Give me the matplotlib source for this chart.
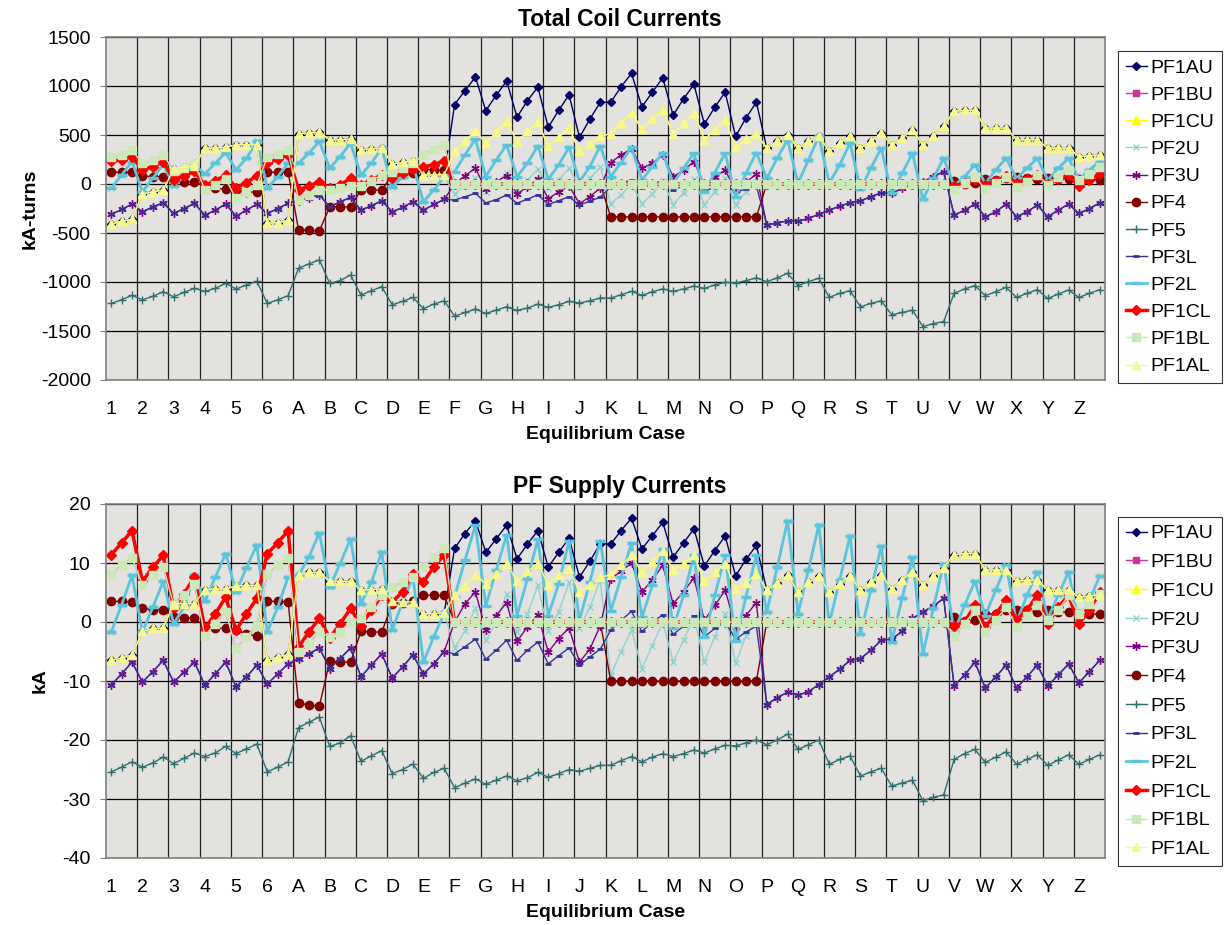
import numpy as np
import matplotlib
matplotlib.use('Agg')
import matplotlib.pyplot as plt

plt.rcParams['font.family'] = ['Liberation Sans', 'DejaVu Sans']
plt.rcParams['axes.unicode_minus'] = False

# equilibrium cases, three points per case
cases = ['1', '2', '3', '4', '5', '6'] + list('ABCDEFGHIJKLMNOPQRSTUVWXYZ')
names = ['PF1AU', 'PF1BU', 'PF1CU', 'PF2U', 'PF3U', 'PF4', 'PF5',
         'PF3L', 'PF2L', 'PF1CL', 'PF1BL', 'PF1AL']

# ---------------- Total coil currents (kA-turns) ----------------
# rows: 1-6 | A-E | F-J | K-O | P-U | V-Z
top_pf1au = [
    -410, -380, -360, -100, -80, -62, 155, 172, 182, 366, 366, 376, 400, 400, 400, -400, -395, -370,
    513, 520, 527, 451, 451, 458, 350, 358, 366, 205, 220, 235, 92, 92, 95,
    811, 954, 1091, 749, 906, 1050, 681, 852, 988, 578, 752, 910, 475, 663, 834,
    834, 992, 1129, 787, 937, 1084, 701, 869, 1016, 612, 783, 937, 486, 674, 834,
    366, 434, 503, 366, 434, 492, 332, 417, 492, 366, 434, 520, 400, 469, 554, 400, 492, 588,
    742, 752, 752, 571, 571, 571, 451, 451, 451, 366, 366, 366, 280, 287, 297]
top_pf1cu = [
    -410, -380, -360, -100, -80, -62, 155, 172, 182, 366, 366, 376, 400, 400, 400, -400, -395, -370,
    513, 520, 527, 451, 451, 458, 350, 358, 366, 205, 220, 235, 92, 92, 95,
    332, 434, 544, 417, 527, 640, 431, 537, 629, 383, 479, 571, 332, 407, 486,
    513, 622, 725, 561, 663, 759, 513, 622, 725, 451, 554, 650, 373, 458, 510,
    366, 434, 503, 366, 434, 492, 332, 417, 492, 366, 434, 520, 400, 469, 554, 400, 492, 588,
    742, 752, 752, 571, 571, 571, 451, 451, 451, 366, 366, 366, 280, 287, 297]
top_pf1al = list(top_pf1cu)
top_pf2u = [
    -44, 92, 229, -79, 60, 200, -20, 75, 195, 103, 212, 321, 144, 263, 434, -44, 75, 212,
    212, 315, 434, 161, 280, 417, 92, 212, 366, -34, 75, 195, -181, -62, 75,
    -100, -20, 60, -80, 10, 110, -50, 40, 150, -45, 45, 160, -30, 60, 170,
    -200, -110, 0, -200, -100, 30, -210, -90, 50, -210, -80, 60, -210, -80, 20,
    58, 263, 451, 7, 246, 486, 7, 195, 417, -55, 161, 366, -96, 109, 315, -157, 58, 263,
    -20, 75, 195, 7, 144, 263, 58, 161, 263, 41, 161, 263, 48, 144, 229]
top_pf2l = [
    -44, 92, 229, -79, 60, 200, -20, 75, 195, 103, 212, 321, 144, 263, 434, -44, 75, 212,
    212, 315, 434, 161, 280, 417, 92, 212, 366, -34, 75, 195, -181, -62, 75,
    127, 298, 458, 75, 246, 400, 75, 212, 390, 48, 195, 376, 24, 178, 390,
    75, 219, 373, 41, 178, 321, 7, 161, 315, -79, 116, 315, -130, 109, 321,
    58, 263, 451, 7, 246, 486, 7, 195, 417, -55, 161, 366, -96, 109, 315, -157, 58, 263,
    -20, 75, 195, 7, 144, 263, 58, 161, 263, 41, 161, 263, 48, 144, 229]
top_pf3u = [
    -311, -260, -205, -284, -233, -192, -301, -250, -198, -318, -267, -205, -328, -267, -205, -301, -250, -198,
    -170, -140, -110, -233, -181, -137, -267, -222, -171, -284, -239, -181, -267, -209, -157,
    0, 85, 161, -55, 24, 85, -103, -27, 50, -150, -80, -20, -200, -130, -40,
    219, 297, 359, 161, 212, 297, 75, 140, 229, -10, 75, 140, -60, 20, 100,
    -420, -397, -376, -380, -352, -308, -267, -226, -192, -171, -130, -89, -96, -44, -10, 24, 75, 127,
    -318, -267, -205, -335, -284, -205, -335, -284, -215, -335, -267, -205, -301, -250, -192]
top_pf3l = [
    -311, -260, -205, -284, -233, -192, -301, -250, -198, -318, -267, -205, -328, -267, -205, -301, -250, -198,
    -170, -140, -110, -233, -181, -137, -267, -222, -171, -284, -239, -181, -267, -209, -157,
    -164, -130, -96, -192, -160, -113, -195, -155, -110, -210, -170, -130, -215, -175, -135,
    -30, 5, 45, -45, 0, 35, -60, -20, 30, -75, -30, 0, -85, -50, -20,
    -420, -397, -376, -380, -352, -308, -267, -226, -192, -171, -130, -89, -96, -44, -10, 24, 75, 127,
    -318, -267, -205, -335, -284, -205, -335, -284, -215, -335, -267, -205, -301, -250, -192]
top_pf4 = [
    120, 120, 120, 82, 75, 75, 41, 24, 24, -27, -44, -51, -62, -79, -85, 120, 120, 120,
    -465, -472, -479, -233, -233, -233, -62, -62, -62, 92, 100, 110, 150, 144, 144,
    0, 0, 0, 0, 0, 0, 0, 0, 0, 0, 0, 0, 0, 0, 0,
    -335, -335, -335, -335, -335, -335, -335, -335, -335, -335, -335, -335, -335, -335, -335,
    0, 0, 0, 0, 0, 0, 0, 0, 0, 0, 0, 0, 0, 0, 0, 0, 0, 0,
    30, 0, 10, 50, 45, 60, 70, 60, 55, 65, 55, 55, 50, 50, 40]
top_pf5 = [
    -1219, -1181, -1137, -1181, -1147, -1099, -1150, -1106, -1065, -1096, -1065, -1014, -1071, -1030, -993, -1219, -1181, -1140,
    -860, -815, -774, -1014, -986, -928, -1133, -1089, -1048, -1232, -1198, -1157, -1273, -1225, -1191,
    -1349, -1311, -1277, -1321, -1287, -1253, -1290, -1266, -1225, -1260, -1232, -1198, -1215, -1191, -1164,
    -1164, -1130, -1096, -1137, -1099, -1071, -1096, -1071, -1041, -1065, -1030, -1003, -1010, -986, -958,
    -996, -958, -911, -1037, -996, -962, -1157, -1116, -1089, -1253, -1219, -1191, -1335, -1311, -1287, -1455, -1424, -1404,
    -1116, -1071, -1037, -1140, -1099, -1055, -1157, -1116, -1078, -1168, -1123, -1082, -1157, -1116, -1078]
top_pf1cl = [
    230, 250, 280, 144, 178, 229, 45, 85, 130, -15, 35, 90, -40, 15, 85, 212, 253, 298,
    -62, -21, 24, -44, -10, 58, -10, 41, 92, 58, 109, 150, 178, 195, 239,
    0, 0, 0, 0, 0, 0, 0, 0, 0, 0, 0, 0, 0, 0, 0,
    0, 0, 0, 0, 0, 0, 0, 0, 0, 0, 0, 0, 0, 0, 0,
    0, 0, 0, 0, 0, 0, 0, 0, 0, 0, 0, 0, 0, 0, 0, 0, 0, 0,
    -20, 10, 50, -10, 30, 80, 10, 50, 95, 0, 50, 90, -20, 40, 100]
top_pf1bl = [
    274, 298, 342, 212, 240, 298, 137, 161, 212, -62, -10, 48, -147, -79, -10, 274, 308, 342,
    -164, -113, -62, -62, -44, -21, -21, 34, 92, 127, 161, 212, 298, 349, 400,
    0, 0, 0, 0, 0, 0, 0, 0, 0, 0, 0, 0, 0, 0, 0,
    0, 0, 0, 0, 0, 0, 0, 0, 0, 0, 0, 0, 0, 0, 0,
    0, 0, 0, 0, 0, 0, 0, 0, 0, 0, 0, 0, 0, 0, 0, 0, 0, 0,
    -62, 7, 75, -55, 7, 75, -27, 24, 92, -10, 75, 144, 41, 103, 171]
top_pf1bu = list(top_pf1bl)

# ---------------- PF supply currents (kA) ----------------
bot_pf1au = [
    -6.5, -6.1, -5.6, -1.6, -1.1, -1.0, 3.1, 3.1, 3.1, 5.5, 5.6, 5.6, 6.1, 6.2, 6.2, -6.5, -5.9, -5.5,
    8.0, 8.4, 8.4, 6.9, 6.9, 6.9, 5.4, 5.5, 5.6, 3.5, 3.4, 3.4, 1.4, 1.4, 1.6,
    12.5, 15.0, 17.2, 11.8, 14.1, 16.4, 10.7, 13.2, 15.5, 9.3, 11.8, 14.2, 7.6, 10.3, 13.3,
    13.2, 15.5, 17.6, 12.4, 14.6, 16.9, 11.0, 13.4, 15.8, 9.5, 12.1, 14.6, 7.8, 10.6, 13.0,
    5.4, 6.6, 7.9, 5.1, 6.7, 7.8, 5.1, 6.5, 7.8, 5.4, 6.7, 8.0, 5.6, 7.2, 8.5, 6.3, 7.8, 9.2,
    11.4, 11.6, 11.6, 8.8, 8.8, 8.8, 6.9, 7.1, 7.1, 5.4, 5.4, 5.4, 4.2, 4.4, 4.6]
bot_pf1cu = [
    -6.5, -6.1, -5.6, -1.6, -1.1, -1.0, 3.1, 3.1, 3.1, 5.5, 5.6, 5.6, 6.1, 6.2, 6.2, -6.5, -5.9, -5.5,
    8.0, 8.4, 8.4, 6.9, 6.9, 6.9, 5.4, 5.5, 5.6, 3.5, 3.4, 3.4, 1.4, 1.4, 1.6,
    4.5, 6.1, 7.9, 6.5, 8.2, 9.9, 6.9, 8.6, 9.9, 6.3, 7.9, 9.0, 5.1, 6.2, 7.6,
    8.0, 9.6, 11.3, 8.4, 10.2, 12.0, 8.8, 9.9, 11.3, 6.9, 8.4, 9.9, 5.6, 6.6, 8.2,
    5.4, 6.6, 7.9, 5.1, 6.7, 7.8, 5.1, 6.5, 7.8, 5.4, 6.7, 8.0, 5.6, 7.2, 8.5, 6.3, 7.8, 9.2,
    11.4, 11.6, 11.6, 8.8, 8.8, 8.8, 6.9, 7.1, 7.1, 5.4, 5.4, 5.4, 4.2, 4.4, 4.6]
bot_pf1al = list(bot_pf1cu)
bot_pf2u = [
    -1.7, 2.9, 7.9, -1.7, 2.5, 6.9, -0.3, 2.5, 7.9, 3.5, 7.6, 11.6, 5.1, 9.2, 13.1, -1.7, 2.5, 7.6,
    7.9, 11.0, 15.1, 5.9, 9.9, 14.1, 3.1, 6.7, 11.9, -1.4, 3.4, 7.6, -6.8, -2.5, 1.5,
    -4.4, -1.5, 2.3, -3.1, 0.0, 4.8, -1.7, 1.4, 6.2, -1.6, 1.7, 6.7, -1.0, 2.5, 7.1,
    -9.0, -5.0, -1.4, -7.9, -4.0, 0.0, -6.8, -3.1, 0.8, -6.8, -2.5, 1.4, -7.0, -2.3, 0.0,
    1.7, 9.3, 17.2, 1.4, 8.8, 16.5, -0.3, 7.1, 14.6, -2.0, 5.4, 12.9, -3.4, 4.0, 11.0, -5.4, 2.3, 9.9,
    -1.7, 2.8, 6.9, 1.1, 5.4, 9.6, 0.0, 4.5, 8.5, 0.6, 4.5, 8.5, -0.3, 3.7, 7.8]
bot_pf2l = [
    -1.7, 2.9, 7.9, -1.7, 2.5, 6.9, -0.3, 2.5, 7.9, 3.5, 7.6, 11.6, 5.1, 9.2, 13.1, -1.7, 2.5, 7.6,
    7.9, 11.0, 15.1, 5.9, 9.9, 14.1, 3.1, 6.7, 11.9, -1.4, 3.4, 7.6, -6.8, -2.5, 1.5,
    4.3, 10.5, 16.4, 2.7, 8.8, 14.8, 1.1, 7.3, 14.0, 1.1, 6.5, 13.8, 0.3, 6.8, 13.8,
    1.8, 7.6, 13.4, 0.8, 6.2, 12.3, -1.0, 4.5, 11.3, -2.5, 4.5, 11.3, -3.2, 4.3, 11.3,
    1.7, 9.3, 17.2, 1.4, 8.8, 16.5, -0.3, 7.1, 14.6, -2.0, 5.4, 12.9, -3.4, 4.0, 11.0, -5.4, 2.3, 9.9,
    -1.7, 2.8, 6.9, 1.1, 5.4, 9.6, 0.0, 4.5, 8.5, 0.6, 4.5, 8.5, -0.3, 3.7, 7.8]
bot_pf3u = [
    -10.7, -8.8, -6.8, -10.2, -8.4, -6.5, -10.2, -8.5, -6.8, -10.7, -8.8, -6.8, -11.0, -9.3, -7.3, -10.5, -8.8, -7.1,
    -6.2, -5.4, -4.4, -7.9, -6.2, -4.4, -9.3, -7.3, -5.4, -9.5, -7.6, -5.6, -8.8, -7.1, -5.0,
    0.0, 3.1, 5.1, -1.4, 1.1, 3.3, -3.3, -0.8, 1.2, -5.1, -2.8, -1.0, -6.8, -4.6, -0.6,
    7.3, 8.6, 10.0, 5.1, 7.1, 9.6, 3.1, 5.1, 7.5, 0.3, 2.8, 5.4, -0.8, 1.1, 3.3,
    -14.0, -12.8, -11.9, -12.4, -11.8, -10.6, -9.3, -8.0, -6.5, -6.2, -4.8, -3.1, -2.9, -1.6, 0.6, 1.7, 2.7, 4.0,
    -10.8, -9.0, -6.8, -11.2, -9.3, -7.3, -11.2, -9.3, -7.3, -10.8, -9.0, -7.1, -10.3, -8.4, -6.5]
bot_pf3l = [
    -10.7, -8.8, -6.8, -10.2, -8.4, -6.5, -10.2, -8.5, -6.8, -10.7, -8.8, -6.8, -11.0, -9.3, -7.3, -10.5, -8.8, -7.1,
    -6.2, -5.4, -4.4, -7.9, -6.2, -4.4, -9.3, -7.3, -5.4, -9.5, -7.6, -5.6, -8.8, -7.1, -5.0,
    -5.4, -4.2, -2.9, -6.3, -4.8, -3.1, -6.5, -4.8, -3.4, -7.1, -5.7, -4.4, -7.3, -5.9, -4.6,
    -1.4, 0.3, 1.8, -1.6, 0.0, 1.2, -2.1, -0.7, 1.0, -2.5, -1.1, 0.0, -2.9, -1.7, -0.7,
    -14.0, -12.8, -11.9, -12.4, -11.8, -10.6, -9.3, -8.0, -6.5, -6.2, -4.8, -3.1, -2.9, -1.6, 0.6, 1.7, 2.7, 4.0,
    -10.8, -9.0, -6.8, -11.2, -9.3, -7.3, -11.2, -9.3, -7.3, -10.8, -9.0, -7.1, -10.3, -8.4, -6.5]
bot_pf4 = [
    3.5, 3.5, 3.4, 2.3, 2.1, 2.1, 0.8, 0.7, 0.6, -0.8, -1.0, -1.1, -1.4, -2.0, -2.4, 3.5, 3.5, 3.4,
    -13.8, -14.0, -14.3, -6.6, -6.8, -6.8, -1.6, -1.7, -1.7, 3.0, 3.3, 3.5, 4.6, 4.5, 4.5,
    0, 0, 0, 0, 0, 0, 0, 0, 0, 0, 0, 0, 0, 0, 0,
    -10, -10, -10, -10, -10, -10, -10, -10, -10, -10, -10, -10, -10, -10, -10,
    0, 0, 0, 0, 0, 0, 0, 0, 0, 0, 0, 0, 0, 0, 0, 0, 0, 0,
    0.8, 0.1, 0.3, 1.4, 1.4, 2.0, 2.1, 2.0, 1.7, 2.0, 1.7, 1.7, 1.4, 1.4, 1.3]
bot_pf5 = [
    -25.4, -24.6, -23.7, -24.6, -23.9, -22.9, -24.0, -23.1, -22.2, -22.8, -22.2, -21.1, -22.3, -21.5, -20.7, -25.4, -24.6, -23.7,
    -17.9, -17.0, -16.1, -21.1, -20.5, -19.3, -23.6, -22.7, -21.8, -25.7, -25.0, -24.1, -26.5, -25.5, -24.8,
    -28.1, -27.3, -26.6, -27.5, -26.8, -26.1, -26.9, -26.4, -25.5, -26.3, -25.7, -25.0, -25.3, -24.8, -24.3,
    -24.3, -23.5, -22.8, -23.7, -22.9, -22.3, -22.8, -22.3, -21.7, -22.2, -21.5, -20.9, -21.0, -20.5, -20.0,
    -20.8, -20.0, -19.0, -21.6, -20.8, -20.0, -24.1, -23.3, -22.7, -26.1, -25.4, -24.8, -27.8, -27.3, -26.8, -30.3, -29.7, -29.3,
    -23.3, -22.3, -21.6, -23.8, -22.9, -22.0, -24.1, -23.3, -22.5, -24.3, -23.4, -22.5, -24.1, -23.3, -22.5]
bot_pf1cl = [
    11.4, 13.4, 15.5, 6.9, 9.3, 11.3, 2.3, 4.8, 7.6, -1.1, 1.4, 4.2, -1.4, 1.4, 4.0, 11.6, 13.4, 15.5,
    -4.2, -1.7, 0.6, -2.7, -0.3, 2.3, -0.6, 2.0, 4.5, 3.4, 5.1, 8.2, 6.8, 9.3, 11.4,
    0, 0, 0, 0, 0, 0, 0, 0, 0, 0, 0, 0, 0, 0, 0,
    0, 0, 0, 0, 0, 0, 0, 0, 0, 0, 0, 0, 0, 0, 0,
    0, 0, 0, 0, 0, 0, 0, 0, 0, 0, 0, 0, 0, 0, 0, 0, 0, 0,
    -0.6, 0.0, 2.8, -0.8, 1.4, 3.7, 0.3, 2.0, 4.6, -0.3, 2.5, 4.5, -0.3, 2.0, 5.1]
bot_pf1bl = [
    8.2, 9.6, 10.8, 6.3, 7.9, 9.4, 2.9, 4.6, 6.5, -2.3, -0.3, 1.7, -4.5, -2.5, -0.6, 8.2, 9.6, 10.8,
    -5.1, -3.7, -1.7, -2.5, -1.7, 0.0, 0.6, 2.6, 4.5, 5.9, 6.8, 7.6, 9.3, 11.0, 12.5,
    0, 0, 0, 0, 0, 0, 0, 0, 0, 0, 0, 0, 0, 0, 0,
    0, 0, 0, 0, 0, 0, 0, 0, 0, 0, 0, 0, 0, 0, 0,
    0, 0, 0, 0, 0, 0, 0, 0, 0, 0, 0, 0, 0, 0, 0, 0, 0, 0,
    -2.3, -0.3, 2.0, -1.7, 0.3, 2.5, -0.8, 1.1, 2.9, 0.3, 2.0, 4.5, 1.4, 3.1, 4.8]
bot_pf1bu = list(bot_pf1bl)

top_data = [top_pf1au, top_pf1bu, top_pf1cu, top_pf2u, top_pf3u, top_pf4, top_pf5,
            top_pf3l, top_pf2l, top_pf1cl, top_pf1bl, top_pf1al]
bot_data = [bot_pf1au, bot_pf1bu, bot_pf1cu, bot_pf2u, bot_pf3u, bot_pf4, bot_pf5,
            bot_pf3l, bot_pf2l, bot_pf1cl, bot_pf1bl, bot_pf1al]

# line / marker styles, same order as names
styles = [
    dict(color='#000066', marker='D', ms=4, lw=1.0),
    dict(color='#cc3399', marker='s', ms=4.5, lw=1.0),
    dict(color='#ffff00', marker='^', ms=5.5, lw=1.0),
    dict(color='#8fd3cf', marker='x', ms=5, lw=1.0, mew=1.0),
    dict(color='#800080', marker=(6, 2, 0), ms=6, lw=1.0, mew=1.0),
    dict(color='#800000', marker='o', ms=6, lw=1.0),
    dict(color='#2f6f6f', marker='+', ms=6, lw=1.0, mew=1.0),
    dict(color='#333399', marker='_', ms=5, lw=1.0, mew=2.0),
    dict(color='#5bc4dc', marker='_', ms=7, lw=2.0, mew=2.5),
    dict(color='#ff0000', marker='D', ms=5, lw=2.5),
    dict(color='#cce8b8', marker='s', ms=6, lw=1.0),
    dict(color='#f8f890', marker='^', ms=5.5, lw=1.0),
]

x = np.arange(len(cases) * 3)

fig = plt.figure(figsize=(12.24, 9.25), dpi=100)
ax1 = fig.add_axes([106 / 1224, 1 - 380 / 925, 999 / 1224, 343 / 925])
ax2 = fig.add_axes([106 / 1224, 1 - 858 / 925, 999 / 1224, 354 / 925])


def draw(ax, data, title, ylabel, ylim, ystep, legend_top, spacing, ylabel_x):
    ax.set_facecolor('#e3e2df')
    for name, vals, st in zip(names, data, styles):
        ax.plot(x, vals, label=name, color=st['color'], lw=st['lw'],
                marker=st['marker'], ms=st['ms'], mew=st.get('mew', 1.0),
                mec=st['color'], mfc=st['color'])
    ax.set_xlim(-0.5, len(x) - 0.5)
    ax.set_ylim(*ylim)
    ax.set_yticks(np.arange(ylim[0], ylim[1] + ystep / 2, ystep))
    ax.set_xticks(np.arange(0, len(x), 3))
    ax.set_xticklabels(cases)
    ax.set_xticks(np.arange(2.5, len(x) - 1, 3), minor=True)
    ax.set_axisbelow(True)
    ax.grid(True, which='minor', axis='x', color='#222222', lw=0.9)
    ax.grid(True, which='major', axis='y', color='black', lw=0.9)
    ax.tick_params(axis='x', which='both', length=0, pad=15, labelsize=14)
    ax.tick_params(axis='y', length=4, color='#808080', pad=7, labelsize=14)
    for sp in ax.spines.values():
        sp.set_color('#808080')
        sp.set_linewidth(1.2)
    ax.set_title(title, fontsize=16.5, fontweight='bold', pad=8, x=0.514)
    ax.set_xlabel('Equilibrium Case', fontsize=14, fontweight='bold', labelpad=6)
    ax.set_ylabel(ylabel, fontsize=14, fontweight='bold')
    ax.yaxis.set_label_coords(ylabel_x, 0.5)
    leg = ax.legend(loc='upper left', bbox_to_anchor=(1.013, legend_top),
                    borderaxespad=0, fontsize=14, frameon=True, fancybox=False,
                    edgecolor='black', handlelength=1.1, handletextpad=0.15,
                    labelspacing=spacing, borderpad=0.4, numpoints=1)
    leg.get_frame().set_linewidth(0.8)


draw(ax1, top_data, 'Total Coil Currents', 'kA-turns', (-2000, 1500), 500, 0.958, 0.49, -0.067)
draw(ax2, bot_data, 'PF Supply Currents', 'kA', (-40, 20), 10, 0.963, 0.57, -0.057)

fig.savefig('out.png', dpi=100)
